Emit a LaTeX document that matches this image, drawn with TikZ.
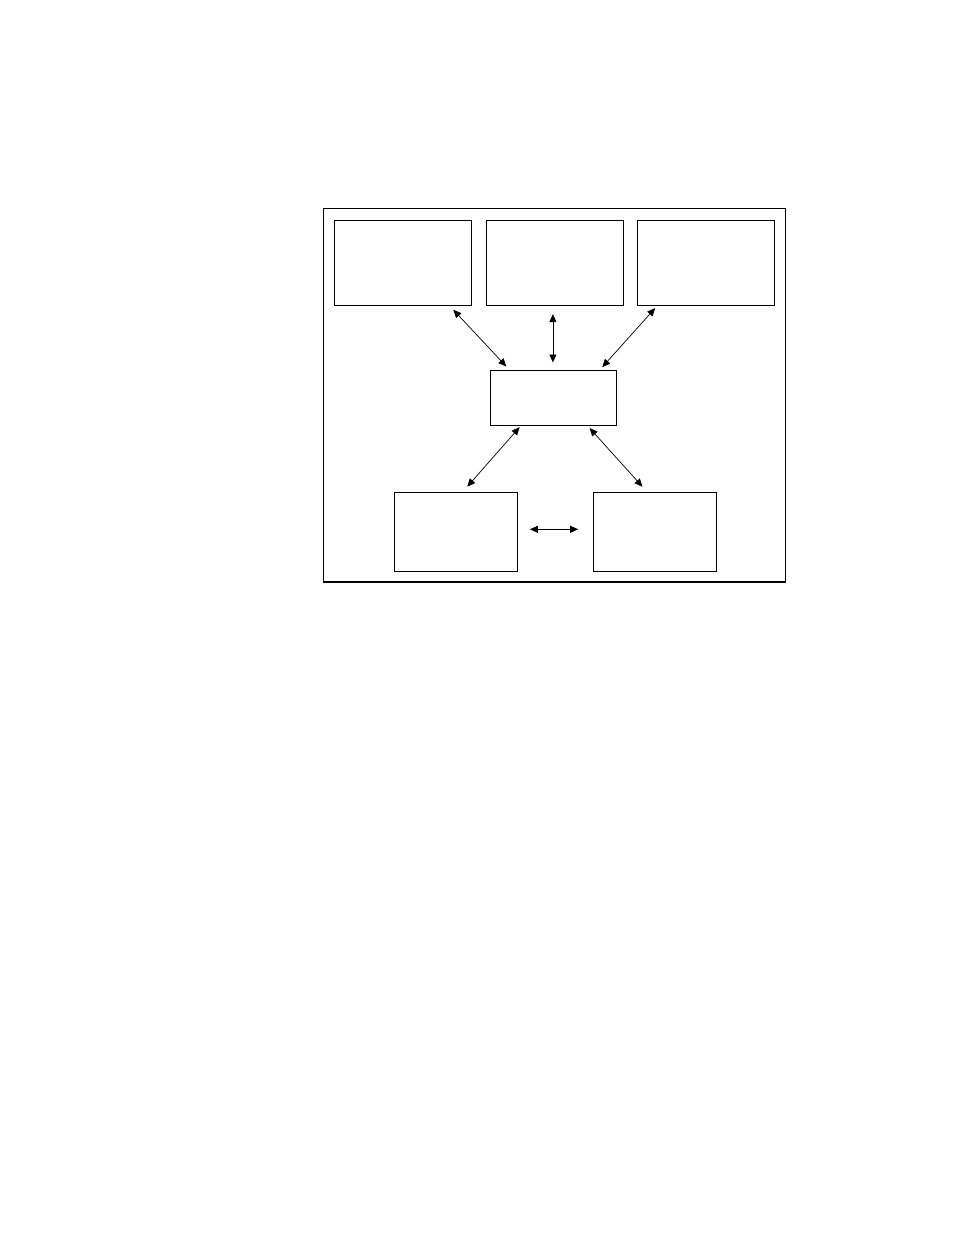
\documentclass[tikz,border=0pt]{standalone}
\usepackage{tikz}
\usetikzlibrary{positioning,arrows.meta}

\begin{document}
\begin{tikzpicture}[
  x=1pt, y=-1pt,
  box/.style={draw, line width=1.1pt, inner sep=0pt, outer sep=0pt, minimum width=137pt, minimum height=85pt},
  arr/.style={{Triangle[length=8pt,width=7pt]}-{Triangle[length=8pt,width=7pt]}, line width=0.7pt}
]
\useasboundingbox (0,0) rectangle (954,1235);
\draw[line width=1.1pt] (323.3,208.3) rectangle (785.3,582);
\node[box] (top1) at (403,263) {};
\node[box, right=14.6pt of top1] (top2) {};
\node[box, right=14.6pt of top2] (top3) {};
\node[box, minimum width=126pt, minimum height=55pt, below=64.6pt of top2, xshift=-0.7pt] (hub) {};
\node[box, minimum width=123pt, minimum height=79.4pt] (low1) at (455.7,532) {};
\node[box, minimum width=123pt, minimum height=79.4pt, right=76pt of low1] (low2) {};
\draw[arr, shorten <=5.9pt, shorten >=4.9pt] ([xshift=46.3pt]top1.south) -- ([xshift=-44.2pt]hub.north);
\draw[arr, shorten <=8.6pt, shorten >=7.6pt] ([xshift=-1.7pt]top2.south) -- ([xshift=-1pt]hub.north);
\draw[arr, shorten <=3.5pt, shorten >=4pt] ([xshift=-48.7pt]top3.south) -- ([xshift=45.7pt]hub.north);
\draw[arr, shorten <=2.7pt, shorten >=7.5pt] ([xshift=-32.5pt]hub.south) -- ([xshift=6.6pt]low1.north);
\draw[arr, shorten <=4pt, shorten >=7.5pt] ([xshift=33pt]hub.south) -- ([xshift=-7.2pt]low2.north);
\draw[arr, shorten <=12.7pt, shorten >=15pt] ([yshift=2.7pt]low1.east) -- ([yshift=2.7pt]low2.west);
\end{tikzpicture}
\end{document}
